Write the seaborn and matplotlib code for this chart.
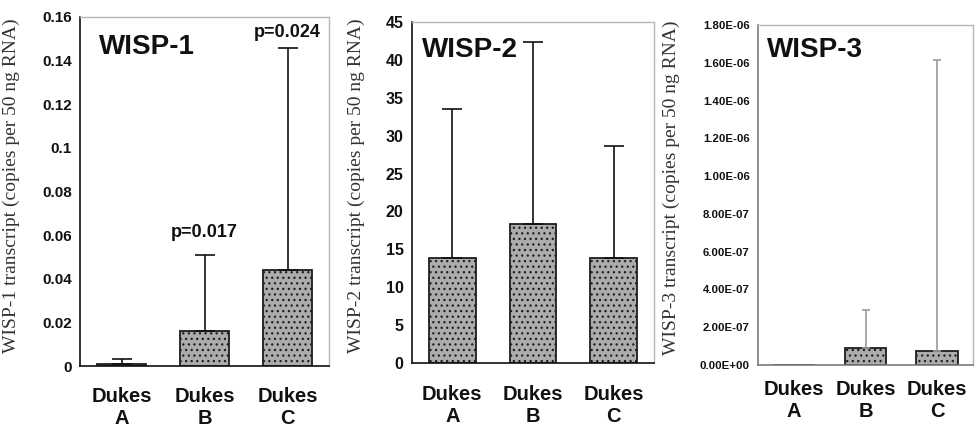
import numpy as np
import pandas as pd
import matplotlib
matplotlib.use("Agg")
import matplotlib.pyplot as plt
from matplotlib.ticker import FixedLocator, FuncFormatter
import seaborn as sns

# ---------------- data ----------------
categories = ["Dukes\nA", "Dukes\nB", "Dukes\nC"]

wisp1_mean = [0.0008, 0.016, 0.0438]
wisp1_upper = [0.0032, 0.0511, 0.146]
wisp1_pvals = ["", "p=0.017", "p=0.024"]

wisp2_mean = [13.8, 18.3, 13.8]
wisp2_upper = [33.5, 42.4, 28.6]

wisp3_mean = [0.0, 9.0e-8, 7.4e-8]
wisp3_upper = [0.0, 2.9e-7, 1.615e-6]

titles = ["WISP-1", "WISP-2", "WISP-3"]
ylabels = ["WISP-1 transcript (copies per 50 ng RNA)",
           "WISP-2 transcript (copies per 50 ng RNA)",
           "WISP-3 transcript (copies per 50 ng RNA)"]
wisp1_ticks = [0, 0.02, 0.04, 0.06, 0.08, 0.1, 0.12, 0.14, 0.16]
wisp2_ticks = [0, 5, 10, 15, 20, 25, 30, 35, 40, 45]
wisp3_ticks = [0, 2e-7, 4e-7, 6e-7, 8e-7, 1e-6, 1.2e-6, 1.4e-6, 1.6e-6, 1.8e-6]

# ---------------- style ----------------
sns.set_style("white")
plt.rcParams["font.family"] = ["Liberation Sans", "DejaVu Sans"]
plt.rcParams["hatch.linewidth"] = 0.9

fig = plt.figure(figsize=(9.77, 4.28), dpi=100)
fig.patch.set_facecolor("white")

axes_pos = [
    [80 / 977, (428 - 366) / 428, 249 / 977, 349 / 428],
    [412 / 977, (428 - 363) / 428, 242 / 977, 341 / 428],
    [758 / 977, (428 - 365) / 428, 215 / 977, 340 / 428],
]

panels = [
    dict(mean=wisp1_mean, upper=wisp1_upper, ticks=wisp1_ticks,
         fmt=lambda v, p: f"{v:g}", tsize=11, ecol="#111111", elw=1.2, cap=7,
         spine="#111111", labx=-0.241, laby=0.516, title_xy=(0.076, 0.914), xpad=15),
    dict(mean=wisp2_mean, upper=wisp2_upper, ticks=wisp2_ticks,
         fmt=lambda v, p: f"{v:g}", tsize=11.5, ecol="#111111", elw=1.2, cap=7,
         spine="#111111", labx=-0.194, laby=0.52, title_xy=(0.041, 0.918), xpad=16),
    dict(mean=wisp3_mean, upper=wisp3_upper, ticks=wisp3_ticks,
         fmt=lambda v, p: f"{v:.2E}", tsize=8.2, ecol="#9a9a9a", elw=1.2, cap=3,
         spine="#7a7a7a", labx=-0.363, laby=0.52, title_xy=(0.042, 0.926), xpad=11),
]

for i, (pos, pan) in enumerate(zip(axes_pos, panels)):
    ax = fig.add_axes(pos)
    df = pd.DataFrame({"cat": categories, "val": pan["mean"]})
    sns.barplot(data=df, x="cat", y="val", ax=ax, width=0.58,
                color="#acacac", edgecolor="#1e1e1e", linewidth=1.3,
                errorbar=None, hatch="...", saturation=1)
    means = np.array(pan["mean"])
    upper = np.array(pan["upper"])
    idx = np.arange(len(categories))
    mask = upper > means
    ax.errorbar(idx[mask], means[mask],
                yerr=[np.zeros(mask.sum()), (upper - means)[mask]],
                fmt="none", ecolor=pan["ecol"], elinewidth=pan["elw"],
                capsize=pan["cap"], capthick=pan["elw"], zorder=3)

    ax.set_xlim(-0.5, 2.5)
    ax.set_ylim(pan["ticks"][0], pan["ticks"][-1])
    ax.yaxis.set_major_locator(FixedLocator(pan["ticks"]))
    ax.yaxis.set_major_formatter(FuncFormatter(pan["fmt"]))
    ax.xaxis.set_minor_locator(FixedLocator([-0.5, 0.5, 1.5, 2.5]))

    ax.tick_params(axis="y", which="major", direction="out", length=4,
                   width=1, color=pan["spine"], labelsize=pan["tsize"], pad=2)
    for t in ax.get_yticklabels():
        t.set_fontweight("bold")
        t.set_color("#111111")
    ax.tick_params(axis="x", which="major", length=0, pad=pan["xpad"],
                   labelsize=14.5)
    ax.tick_params(axis="x", which="minor", direction="out", length=5,
                   width=1, color=pan["spine"])
    for t in ax.get_xticklabels():
        t.set_fontweight("bold")
        t.set_color("#111111")
        t.set_linespacing(1.18)

    for s in ["left", "bottom"]:
        ax.spines[s].set_color(pan["spine"])
        ax.spines[s].set_linewidth(1.2)
    for s in ["top", "right"]:
        ax.spines[s].set_color("#b5b5b5")
        ax.spines[s].set_linewidth(1.0)
        ax.spines[s].set_visible(True)

    ax.set_xlabel("")
    ax.set_ylabel(ylabels[i], family=["Liberation Serif", "DejaVu Serif"],
                  fontsize=14, color="#333333")
    ax.yaxis.set_label_coords(pan["labx"], pan["laby"])

    ax.text(pan["title_xy"][0], pan["title_xy"][1], titles[i],
            transform=ax.transAxes, ha="left", va="center",
            fontsize=20, fontweight="bold", color="#111111")

    if i == 0:
        offsets = [0, 16, 11]
        for j, lab in enumerate(wisp1_pvals):
            if lab:
                ax.annotate(lab, xy=(j, wisp1_upper[j]), xytext=(0, offsets[j]),
                            textcoords="offset points", ha="center", va="center",
                            fontsize=13, fontweight="bold", color="#111111")

fig.savefig("out.png", dpi=100, facecolor="white")
